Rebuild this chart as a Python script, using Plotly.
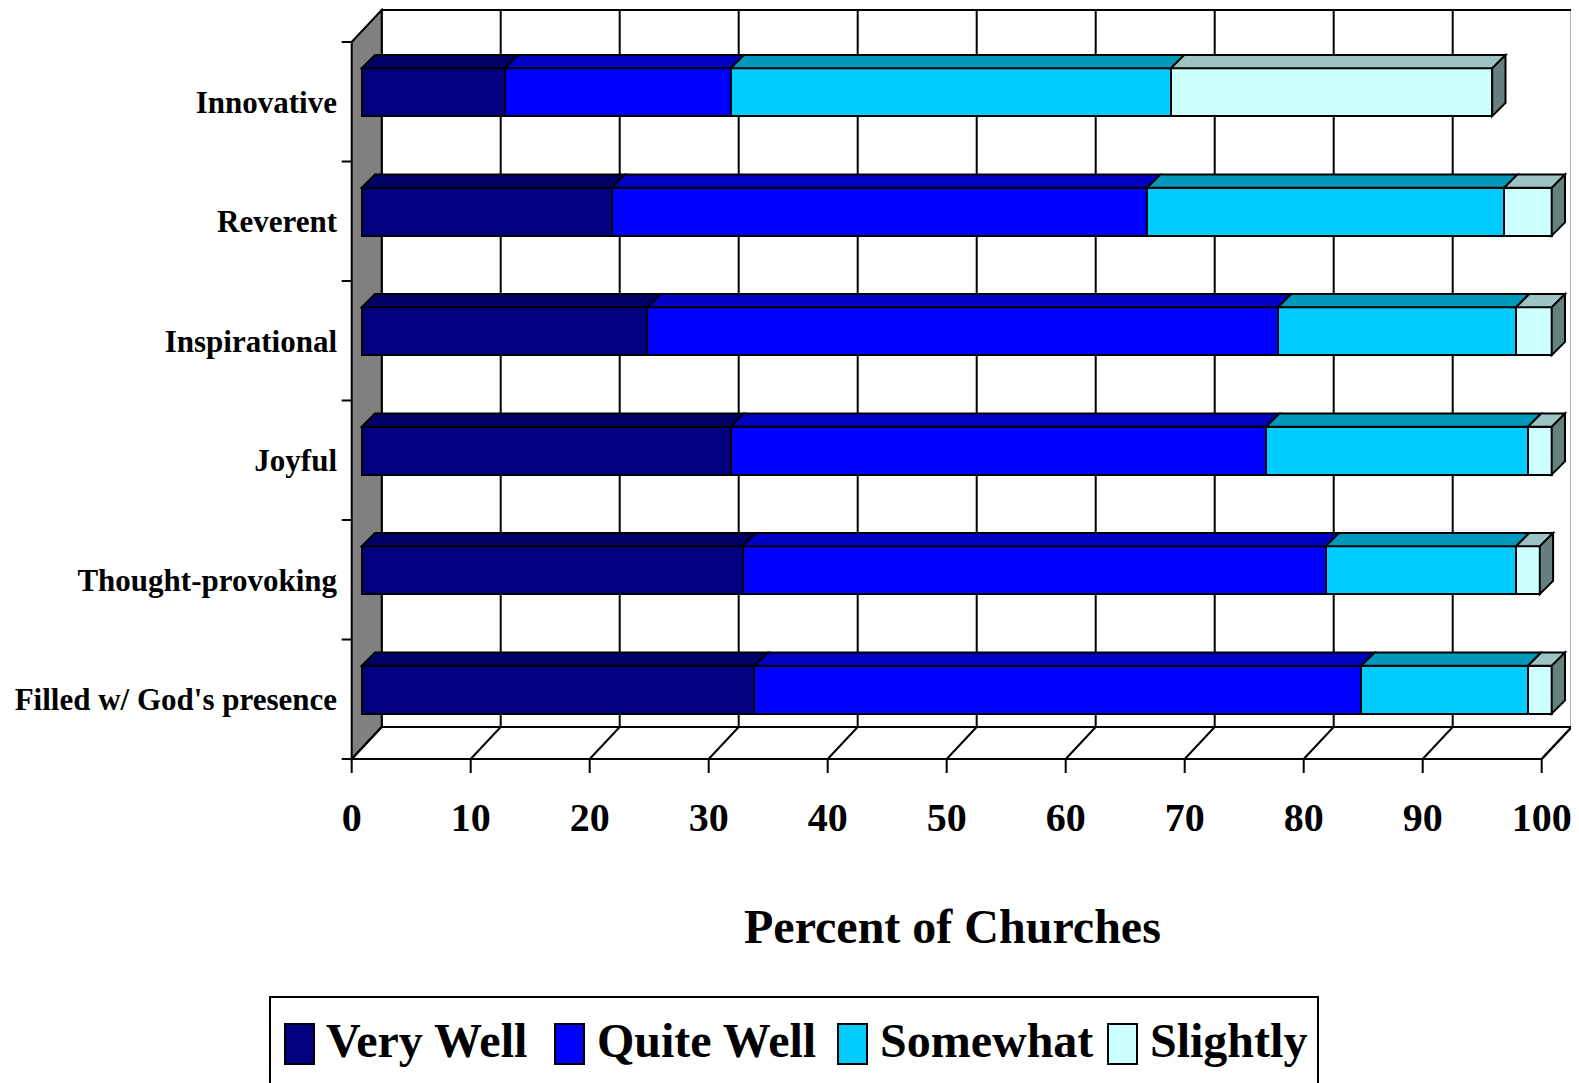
import numpy as np
import plotly.graph_objects as go

# ---------------- data ----------------
categories = ["Filled w/ God's presence", "Thought-provoking", "Joyful",
              "Inspirational", "Reverent", "Innovative"]          # bottom -> top
series_names = ["Very Well", "Quite Well", "Somewhat", "Slightly"]
very_well = [33, 32, 31, 24, 21, 12]
quite_well = [51, 49, 45, 53, 45, 19]
somewhat = [14, 16, 22, 20, 30, 37]
slightly = [2, 2, 2, 3, 4, 27]
x_ticks = [0, 10, 20, 30, 40, 50, 60, 70, 80, 90, 100]
x_title = "Percent of Churches"

series_values = [very_well, quite_well, somewhat, slightly]

# ---------------- styles ----------------
front_colors = ["#000080", "#0000FF", "#00CCFF", "#CCFFFF"]
top_colors = ["#000066", "#0000C4", "#0099BB", "#9CC4C4"]
side_color = "#668080"
wall_color = "#808080"
FONT = "Liberation Serif, Times New Roman, serif"

# ---------------- geometry (screen pixels) ----------------
SCREEN_W, SCREEN_H = 1579, 1083
OFF = 8                               # page body margin
W, H = SCREEN_W - OFF, SCREEN_H - OFF
plot_l, plot_r, plot_t, plot_b = 338, 1576, 8, 778
ox, oy = 351.7, 759.0          # front-floor origin
sx, sy = 11.9, 119.5           # px per percent, px per category band
wall_dx, wall_dy = 30.0, 32.0  # depth of the 3D box
bar_dx, bar_dy = 10.0, 9.5     # bar front-face offset from front plane
bar_depth = 13.3
bar_width = 0.4

n = len(categories)
xmax = x_ticks[-1]
xr = [(plot_l - ox) / sx, (plot_r - ox) / sx]
yr = [(oy - plot_b) / sy, (oy - plot_t) / sy]
bx_off, by_off = bar_dx / sx, bar_dy / sy
xr2 = [xr[0] - bx_off, xr[1] - bx_off]
yr2 = [yr[0] - by_off, yr[1] - by_off]
BX, BY = wall_dx / sx, wall_dy / sy
ddx, ddy = bar_depth / sx, bar_depth / sy

def pxx(px):
    return (px - plot_l) / (plot_r - plot_l)

def pxy(py):
    return (plot_b - py) / (plot_b - plot_t)

ypos = np.arange(n) + 0.5
vals = np.array(series_values, dtype=float)
cum = np.cumsum(vals, axis=0)
starts = cum - vals

fig = go.Figure()

for j, name in enumerate(series_names):
    fig.add_trace(go.Bar(
        y=ypos, x=vals[j], orientation="h", name=name,
        xaxis="x2", yaxis="y2", width=bar_width,
        marker=dict(color=front_colors[j], line=dict(color="black", width=2)),
        showlegend=False, hoverinfo="x+name",
    ))

shapes = []
blk = dict(color="black", width=2)
# back wall
shapes.append(dict(type="rect", xref="x", yref="y", x0=BX, y0=BY, x1=xmax + BX, y1=n + BY,
                   fillcolor="white", line=blk, layer="below"))
for t in x_ticks[1:-1]:
    shapes.append(dict(type="line", xref="x", yref="y", x0=t + BX, y0=BY, x1=t + BX, y1=n + BY,
                       line=blk, layer="below"))
# left wall
shapes.append(dict(type="path", xref="x", yref="y",
                   path=f"M0,0 L{BX},{BY} L{BX},{n + BY} L0,{n} Z",
                   fillcolor=wall_color, line=blk, layer="below"))
# floor
shapes.append(dict(type="path", xref="x", yref="y",
                   path=f"M0,0 L{xmax},0 L{xmax + BX},{BY} L{BX},{BY} Z",
                   fillcolor="white", line=blk, layer="below"))
for t in x_ticks:
    shapes.append(dict(type="line", xref="x", yref="y", x0=t, y0=0, x1=t + BX, y1=BY,
                       line=blk, layer="below"))
    shapes.append(dict(type="line", xref="x", yref="y", x0=t, y0=0, x1=t, y1=-14 / sy,
                       line=blk, layer="below"))
for k in range(n + 1):
    shapes.append(dict(type="line", xref="x", yref="y", x0=0, y0=k, x1=-10 / sx, y1=k,
                       line=blk, layer="below"))

# bar top & side faces
for i in range(n):
    c = ypos[i]
    top = c + bar_width / 2
    bot = c - bar_width / 2
    last_end = None
    for j in range(len(series_names)):
        if vals[j, i] <= 0:
            continue
        a, b = starts[j, i], cum[j, i]
        shapes.append(dict(type="path", xref="x2", yref="y2",
                           path=f"M{a},{top} L{b},{top} L{b + ddx},{top + ddy} L{a + ddx},{top + ddy} Z",
                           fillcolor=top_colors[j], line=blk, layer="above"))
        last_end = b
    if last_end is not None:
        shapes.append(dict(type="path", xref="x2", yref="y2",
                           path=f"M{last_end},{bot} L{last_end},{top} L{last_end + ddx},{top + ddy} L{last_end + ddx},{bot + ddy} Z",
                           fillcolor=side_color, line=blk, layer="above"))

# manual legend
leg_box = (270, 997, 1318, 1100)
shapes.append(dict(type="rect", xref="paper", yref="paper",
                   x0=pxx(leg_box[0]), y0=pxy(leg_box[1]), x1=pxx(leg_box[2]), y1=pxy(leg_box[3]),
                   line=blk, fillcolor="white", layer="below"))
sq_x = [285, 555, 838, 1108]
txt_x = [324, 595, 878, 1148]
annotations = []
for j, name in enumerate(series_names):
    shapes.append(dict(type="rect", xref="paper", yref="paper",
                       x0=pxx(sq_x[j]), x1=pxx(sq_x[j] + 29), y0=pxy(1024), y1=pxy(1064),
                       fillcolor=front_colors[j], line=blk))
    annotations.append(dict(text=name, xref="paper", yref="paper", x=pxx(txt_x[j]), y=pxy(1040),
                            xanchor="left", yanchor="middle", showarrow=False,
                            font=dict(family=FONT, size=48, color="black", weight="bold")))
annotations.append(dict(text=x_title, xref="paper", yref="paper", x=pxx(952), y=pxy(926),
                        xanchor="center", yanchor="middle", showarrow=False,
                        font=dict(family=FONT, size=48, color="black", weight="bold")))

fig.update_layout(
    width=W, height=H,
    margin=dict(l=plot_l - OFF, r=SCREEN_W - plot_r, t=plot_t - OFF, b=SCREEN_H - plot_b, pad=0),
    paper_bgcolor="white", plot_bgcolor="white",
    barmode="stack", showlegend=False,
    shapes=shapes, annotations=annotations,
    xaxis=dict(range=xr, tickvals=x_ticks, ticktext=[str(t) for t in x_ticks],
               ticks="", showgrid=False, zeroline=False, showline=False,
               ticklabelstandoff=12,
               tickfont=dict(family=FONT, size=40, color="black", weight="bold")),
    yaxis=dict(range=yr, tickvals=list(ypos), ticktext=categories,
               ticks="", showgrid=False, zeroline=False, showline=False,
               ticklabelstandoff=0,
               tickfont=dict(family=FONT, size=31, color="black", weight="bold")),
    xaxis2=dict(range=xr2, overlaying="x", visible=False),
    yaxis2=dict(range=yr2, overlaying="y", visible=False),
)

fig.write_html("out.html")
